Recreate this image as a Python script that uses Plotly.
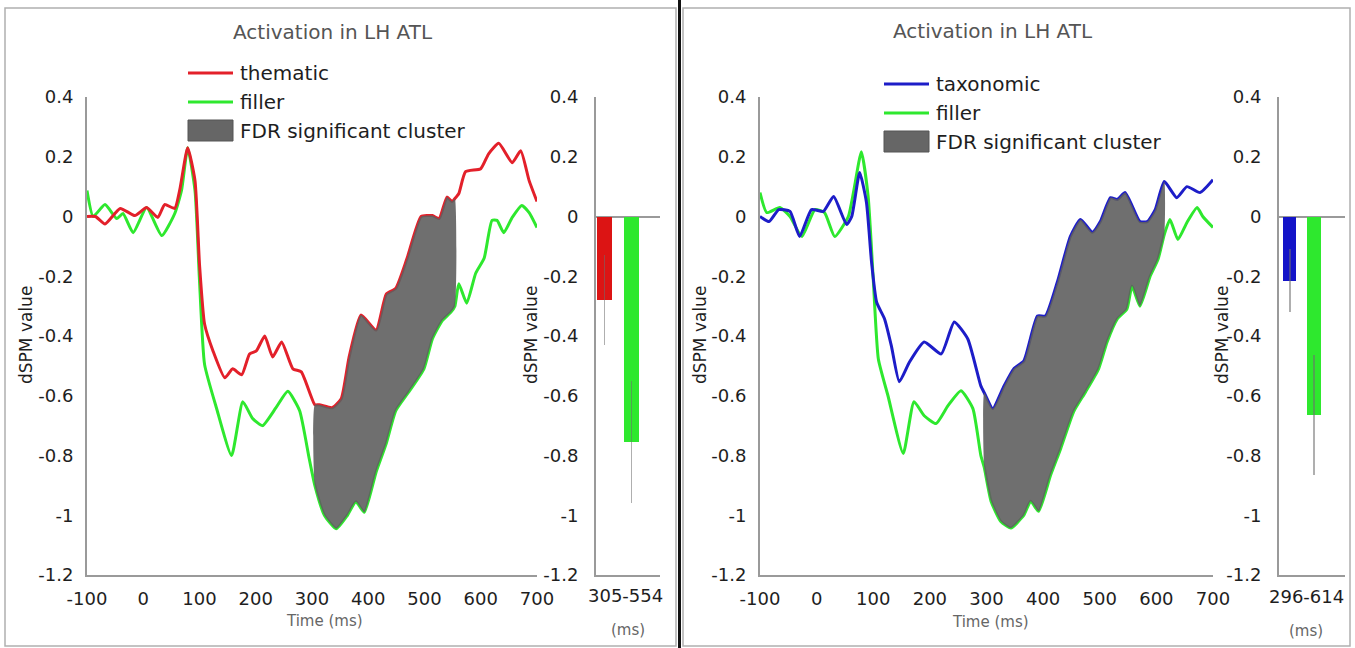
import plotly.graph_objects as go

W, H = 1355, 648

# ---------------- data ----------------
# Left panel: thematic vs filler
them_t = [-100, -85, -68, -41, -15, 6, 26, 38, 56, 65, 79, 92, 100, 109, 124, 145, 159, 175, 189, 201,
          216, 230, 246, 266, 281, 305, 313, 336, 352, 366, 387, 414, 432, 449, 469, 494, 514, 526, 540,
          549, 554, 561, 573, 600, 614, 632, 656, 671, 686, 700]
them_v = [0.0, 0.0, -0.025, 0.027, 0.003, 0.03, -0.003, 0.04, 0.027, 0.09, 0.23, 0.12, -0.16, -0.36, -0.45,
          -0.54, -0.51, -0.53, -0.46, -0.45, -0.40, -0.47, -0.42, -0.51, -0.52, -0.63, -0.63, -0.64, -0.61,
          -0.47, -0.33, -0.38, -0.26, -0.24, -0.14, 0.0, 0.003, -0.007, 0.065, 0.05, 0.06, 0.077, 0.15, 0.16,
          0.21, 0.245, 0.18, 0.22, 0.12, 0.05]

fillL_t = [-100, -89, -68, -47, -36, -18, 6, 33, 56, 68, 79, 92, 100, 109, 130, 157, 177, 194, 212, 236,
           257, 278, 295, 305, 322, 343, 363, 378, 393, 414, 432, 449, 473, 499, 514, 531, 547, 554, 561,
           575, 591, 606, 620, 629, 641, 656, 673, 686, 700]
fillL_v = [0.087, 0.0, 0.04, -0.007, 0.01, -0.054, 0.03, -0.064, 0.01, 0.087, 0.23, 0.087, -0.215, -0.495,
           -0.64, -0.80, -0.62, -0.675, -0.70, -0.64, -0.585, -0.65, -0.81, -0.90, -1.0, -1.045, -1.0, -0.955,
           -0.99, -0.855, -0.76, -0.65, -0.585, -0.51, -0.41, -0.35, -0.32, -0.30, -0.225, -0.29, -0.19, -0.14,
           -0.013, -0.013, -0.054, -0.003, 0.037, 0.013, -0.037]

# Right panel: taxonomic vs filler
tax_t = [-100, -84, -67, -47, -30, -9, 12, 30, 53, 62, 76, 88, 97, 106, 120, 132, 146, 164, 190, 220, 243,
         267, 290, 296, 311, 331, 348, 366, 390, 404, 425, 448, 466, 487, 501, 519, 531, 545, 571, 584, 598,
         614, 636, 654, 677, 700]
tax_v = [0.0, -0.017, 0.023, 0.017, -0.067, 0.023, 0.017, 0.067, -0.027, 0.0, 0.147, 0.047, -0.153, -0.287,
         -0.343, -0.433, -0.553, -0.487, -0.42, -0.46, -0.353, -0.41, -0.567, -0.59, -0.643, -0.567, -0.51,
         -0.483, -0.333, -0.333, -0.22, -0.067, -0.01, -0.053, -0.017, 0.063, 0.057, 0.08, -0.017, -0.017,
         0.023, 0.117, 0.063, 0.1, 0.08, 0.123]

fillR_t = [-100, -88, -65, -47, -26, -3, 14, 32, 56, 65, 79, 91, 100, 109, 126, 153, 172, 190, 211, 232,
           255, 276, 290, 296, 308, 325, 343, 366, 378, 392, 413, 431, 454, 475, 498, 513, 531, 548, 557,
           571, 589, 603, 614, 624, 638, 654, 672, 682, 700]
fillR_v = [0.08, 0.013, 0.03, 0.0, -0.067, 0.023, 0.013, -0.067, 0.0, 0.08, 0.217, 0.067, -0.21, -0.477,
           -0.6, -0.793, -0.62, -0.667, -0.693, -0.633, -0.583, -0.643, -0.8, -0.84, -0.953, -1.02, -1.043,
           -1.0, -0.953, -0.987, -0.867, -0.777, -0.653, -0.587, -0.51, -0.42, -0.343, -0.31, -0.233, -0.3,
           -0.2, -0.143, -0.06, -0.01, -0.077, -0.02, 0.03, 0.0, -0.037]

clusterL = [305, 554]
clusterR = [296, 614]

barL_cats = ["thematic", "filler"]
barL_vals = [-0.28, -0.755]
barL_err = [0.15, 0.205]
barR_cats = ["taxonomic", "filler"]
barR_vals = [-0.215, -0.665]
barR_err = [0.105, 0.2]

x_ticks = [-100, 0, 100, 200, 300, 400, 500, 600, 700]
y_ticks = [0.4, 0.2, 0, -0.2, -0.4, -0.6, -0.8, -1, -1.2]
y_ticktext = ["0.4", "0.2", "0", "-0.2", "-0.4", "-0.6", "-0.8", "-1", "-1.2"]

RED, GREEN, BLUE = "#e3202a", "#2ee82e", "#1d1dc8"
FONT = "DejaVu Sans"
LINE = dict(width=3, shape="spline", smoothing=0.5)

def px(x):
    return x / W

def py(y):
    return 1 - y / H

fig = go.Figure()

def cluster_poly(t1, v1, t2, v2, lo, hi):
    top = [(t, v) for t, v in zip(t1, v1) if lo <= t <= hi]
    bot = [(t, v) for t, v in zip(t2, v2) if lo <= t <= hi][::-1]
    pts = top + bot + [top[0]]
    return [p[0] for p in pts], [p[1] for p in pts]

# Left lines
fig.add_trace(go.Scatter(x=fillL_t, y=fillL_v, mode="lines", line=dict(LINE, color=GREEN),
                         xaxis="x", yaxis="y", showlegend=False))
fig.add_trace(go.Scatter(x=them_t, y=them_v, mode="lines", line=dict(LINE, color=RED),
                         xaxis="x", yaxis="y", showlegend=False))
cx, cy = cluster_poly(them_t, them_v, fillL_t, fillL_v, *clusterL)
fig.add_trace(go.Scatter(x=cx, y=cy, mode="lines", fill="toself", fillcolor="rgba(95,95,95,0.9)",
                         line=dict(width=0, shape="spline", smoothing=0.5), xaxis="x", yaxis="y", showlegend=False))

# Right lines
fig.add_trace(go.Scatter(x=fillR_t, y=fillR_v, mode="lines", line=dict(LINE, color=GREEN),
                         xaxis="x3", yaxis="y3", showlegend=False))
fig.add_trace(go.Scatter(x=tax_t, y=tax_v, mode="lines", line=dict(LINE, color=BLUE),
                         xaxis="x3", yaxis="y3", showlegend=False))
cx, cy = cluster_poly(tax_t, tax_v, fillR_t, fillR_v, *clusterR)
fig.add_trace(go.Scatter(x=cx, y=cy, mode="lines", fill="toself", fillcolor="rgba(95,95,95,0.9)",
                         line=dict(width=0, shape="spline", smoothing=0.5), xaxis="x3", yaxis="y3", showlegend=False))

# Bars
fig.add_trace(go.Bar(x=barL_cats, y=barL_vals, width=0.55, marker=dict(color=["#dc1414", GREEN], line=dict(width=0)),
                     error_y=dict(type="data", array=barL_err, color="rgba(110,110,110,0.55)", thickness=1.6, width=0),
                     xaxis="x2", yaxis="y2", showlegend=False))
fig.add_trace(go.Bar(x=barR_cats, y=barR_vals, width=0.54, marker=dict(color=["#1414c8", GREEN], line=dict(width=0)),
                     error_y=dict(type="data", array=barR_err, color="rgba(110,110,110,0.55)", thickness=1.6, width=0),
                     xaxis="x4", yaxis="y4", showlegend=False))

ydom = [py(575), py(97)]
axis_common = dict(showline=True, linecolor="#9a9a9a", linewidth=2, showgrid=False, zeroline=False,
                   ticks="", automargin=False, tickfont=dict(family=FONT, size=18, color="#1e1e1e"))
yax = dict(axis_common, range=[-1.2, 0.4], tickvals=y_ticks, ticktext=y_ticktext, domain=ydom)

layout = dict(
    width=W, height=H, margin=dict(l=0, r=0, t=0, b=0, pad=0, autoexpand=False),
    paper_bgcolor="white", plot_bgcolor="white", showlegend=False,
    bargap=0,
    xaxis=dict(axis_common, domain=[px(87), px(537)], range=[-100, 700], tickvals=x_ticks,
               ticktext=[str(v) for v in x_ticks], anchor="y", ticklabelstandoff=6),
    yaxis=dict(yax, anchor="x", ticklabelstandoff=8),
    xaxis2=dict(axis_common, domain=[px(596), px(660)], type="category", range=[-0.31, 2.06],
                showticklabels=False, anchor="y2"),
    yaxis2=dict(yax, anchor="x2", zeroline=True, zerolinecolor="#9a9a9a", zerolinewidth=2, ticklabelstandoff=12),
    xaxis3=dict(axis_common, domain=[px(760), px(1213)], range=[-100, 700], tickvals=x_ticks,
                ticktext=[str(v) for v in x_ticks], anchor="y3", ticklabelstandoff=6),
    yaxis3=dict(yax, anchor="x3", ticklabelstandoff=8),
    xaxis4=dict(axis_common, domain=[px(1279), px(1345)], type="category", range=[-0.44, 2.27],
                showticklabels=False, anchor="y4"),
    yaxis4=dict(yax, anchor="x4", zeroline=True, zerolinecolor="#9a9a9a", zerolinewidth=2, ticklabelstandoff=12),
)
fig.update_layout(**layout)

shapes = []
annotations = []

# panel frames and separator
shapes.append(dict(type="rect", xref="paper", yref="paper", x0=px(5), x1=px(676), y0=py(646), y1=py(8),
                   line=dict(color="#b0b0b0", width=1.5), layer="below"))
shapes.append(dict(type="rect", xref="paper", yref="paper", x0=px(683), x1=px(1350), y0=py(646), y1=py(8),
                   line=dict(color="#b0b0b0", width=1.5), layer="below"))
shapes.append(dict(type="line", xref="paper", yref="paper", x0=px(679.5), x1=px(679.5), y0=0, y1=1,
                   line=dict(color="#111111", width=3)))

def txt(x, y, s, size, color, xanchor="center", angle=0):
    annotations.append(dict(x=px(x), y=py(y), xref="paper", yref="paper", text=s, showarrow=False,
                            xanchor=xanchor, yanchor="middle", textangle=angle,
                            font=dict(family=FONT, size=size, color=color)))

# legends
def legend(x0, y_first, labels, colors):
    for i, (lab, col) in enumerate(zip(labels, colors)):
        yy = y_first + i * 29
        shapes.append(dict(type="line", xref="paper", yref="paper", x0=px(x0), x1=px(x0 + 45),
                           y0=py(yy), y1=py(yy), line=dict(color=col, width=3)))
        txt(x0 + 50, yy, lab, 20, "#1e1e1e", xanchor="left")
    yy = y_first + 2 * 29
    shapes.append(dict(type="rect", xref="paper", yref="paper", x0=px(x0), x1=px(x0 + 45),
                       y0=py(yy + 10), y1=py(yy - 11), fillcolor="#666666", line=dict(color="#555555", width=1)))
    txt(x0 + 50, yy, "FDR significant cluster", 20, "#1e1e1e", xanchor="left")

legend(188, 73, ["thematic", "filler"], [RED, GREEN])
legend(884, 84, ["taxonomic", "filler"], [BLUE, GREEN])

# titles and labels
txt(333, 32, "Activation in LH ATL", 20, "#555555")
txt(993, 31, "Activation in LH ATL", 20, "#555555")
txt(324, 621, "Time (ms)", 15, "#666666")
txt(990, 622, "Time (ms)", 15, "#666666")
txt(26, 335, "dSPM value", 17, "#1e1e1e", angle=-90)
txt(531, 335, "dSPM value", 17, "#1e1e1e", angle=-90)
txt(700, 335, "dSPM value", 17, "#1e1e1e", angle=-90)
txt(1222, 335, "dSPM value", 17, "#1e1e1e", angle=-90)
txt(625, 595, "305-554", 18, "#1e1e1e")
txt(628, 630, "(ms)", 15, "#666666")
txt(1306, 596, "296-614", 18, "#1e1e1e")
txt(1306, 631, "(ms)", 15, "#666666")

fig.update_layout(shapes=shapes, annotations=annotations)
fig.write_html("out.html")
